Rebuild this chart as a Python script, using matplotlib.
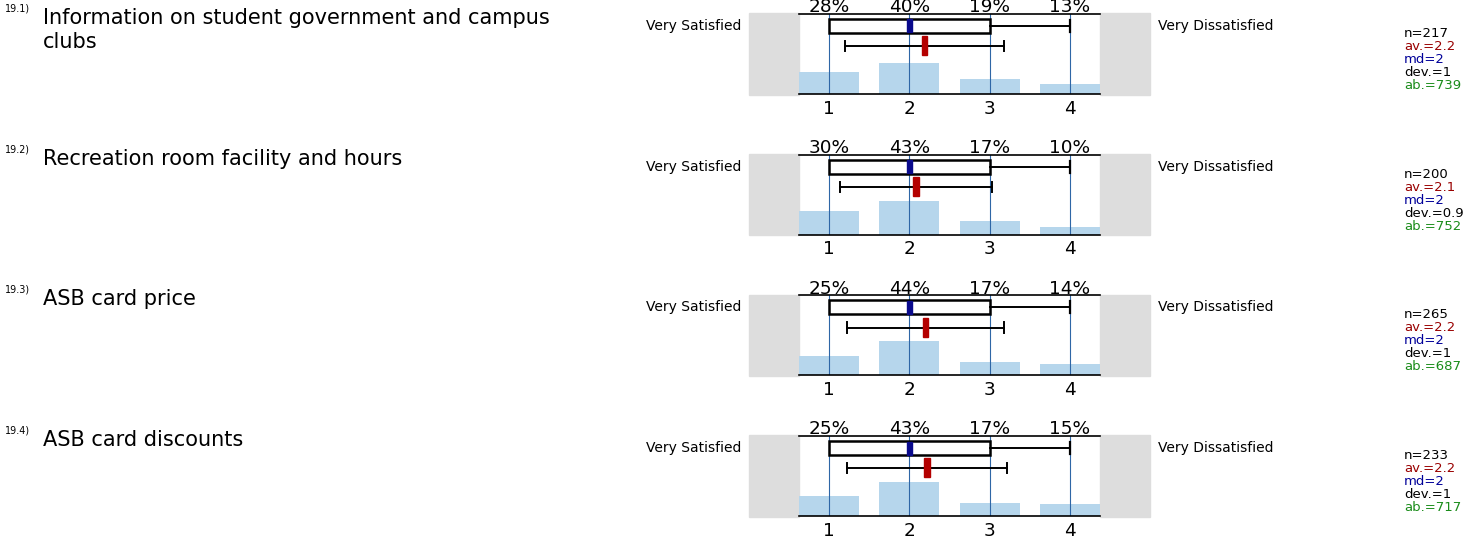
import matplotlib
matplotlib.use("Agg")
import matplotlib.pyplot as plt
from matplotlib.patches import Rectangle

# the reference text is wide for its height, DejaVu Sans comes closest
plt.rcParams['font.family'] = ['DejaVu Sans']

# data
item_ids = ["19.1)", "19.2)", "19.3)", "19.4)"]
questions = ["Information on student government and campus\nclubs",
             "Recreation room facility and hours",
             "ASB card price",
             "ASB card discounts"]
scale = [1, 2, 3, 4]
percents = [[28, 40, 19, 13],
            [30, 43, 17, 10],
            [25, 44, 17, 14],
            [25, 43, 17, 15]]
q1 = [1, 1, 1, 1]
medians = [2, 2, 2, 2]
q3 = [3, 3, 3, 3]
whisk_lo = [1, 1, 1, 1]
whisk_hi = [4, 4, 4, 4]
means = [2.19, 2.08, 2.2, 2.22]
devs = [0.99, 0.95, 0.98, 1.0]
n_vals = [217, 200, 265, 233]
av_txt = ["2.2", "2.1", "2.2", "2.2"]
md_txt = ["2", "2", "2", "2"]
dev_txt = ["1", "0.9", "1", "1"]
ab_vals = [739, 752, 687, 717]
left_label = "Very Satisfied"
right_label = "Very Dissatisfied"

W, H = 1475, 540
fig = plt.figure(figsize=(W / 100, H / 100), dpi=100)

GRAY = "#dddddd"
BAR = "#b6d6ec"
VLINE = "#2e66a6"
NAVY = "#0a0a8c"
RED = "#b40000"
GREEN = "#1a8c1a"

def fx(px):
    return px / W

def fy(py):
    return 1 - py / H

for i in range(len(questions)):
    top = 14 + i * 140.7
    ph = 80
    ax = fig.add_axes([fx(799), fy(top + ph), fx(1100) - fx(799), ph / H])
    ax.set_xlim(0.625, 4.375)
    ax.set_ylim(0, 102)

    # gray side blocks
    ax.add_patch(Rectangle((0.0, -1), 0.625, 104, color=GRAY, clip_on=False, zorder=0))
    ax.add_patch(Rectangle((4.375, -1), 0.625, 104, color=GRAY, clip_on=False, zorder=0))

    ax.bar(scale, percents[i], width=0.75, color=BAR, zorder=1)
    for s in scale:
        ax.axvline(s, color=VLINE, lw=0.8, zorder=2)

    # box plot
    ax.add_patch(Rectangle((q1[i], 77.7), q3[i] - q1[i], 18, fill=True, facecolor="white",
                           edgecolor="black", lw=1.8, zorder=3))
    ax.plot([q3[i], whisk_hi[i]], [86.7, 86.7], color="black", lw=1.4, zorder=3)
    ax.plot([whisk_hi[i], whisk_hi[i]], [79, 94.5], color="black", lw=1.6, zorder=3)
    ax.plot([whisk_lo[i], q1[i]], [86.7, 86.7], color="black", lw=1.4, zorder=3)
    ax.add_patch(Rectangle((medians[i] - 0.03, 78.5), 0.06, 16.5, color=NAVY, zorder=4))

    # mean +- deviation
    lo, hi = means[i] - devs[i], means[i] + devs[i]
    ax.plot([lo, hi], [61, 61], color="black", lw=1.4, zorder=3)
    for x in (lo, hi):
        ax.plot([x, x], [54.5, 67.5], color="black", lw=1.4, zorder=3)
    ax.add_patch(Rectangle((means[i] - 0.035, 49.5), 0.07, 24, color=RED, zorder=4))

    for s, p in zip(scale, percents[i]):
        ax.annotate(f"{p}%", (s, 102), xytext=(0, 1.2), textcoords="offset points",
                    ha="center", va="baseline", fontsize=13.3, annotation_clip=False)

    ax.set_xticks(scale)
    ax.set_xticklabels([str(s) for s in scale], fontsize=13.3)
    ax.tick_params(axis="x", length=0, pad=4)
    ax.set_yticks([])
    for side in ("left", "right"):
        ax.spines[side].set_visible(False)
    for side in ("top", "bottom"):
        ax.spines[side].set_linewidth(1.2)
    ax.patch.set_alpha(0)

    fig.text(fx(741), fy(top + 16), left_label, ha="right", va="baseline", fontsize=10)
    fig.text(fx(1158), fy(top + 16), right_label, ha="left", va="baseline", fontsize=10)

    fig.text(fx(5), fy(top - 2.5), item_ids[i], ha="left", va="baseline", fontsize=6.9)
    for k, line in enumerate(questions[i].split("\n")):
        fig.text(fx(43), fy(top + 10 + 24 * k), line, ha="left", va="baseline",
                 fontsize=15)

    stats = [(f"n={n_vals[i]}", "black"), (f"av.={av_txt[i]}", "#990000"),
             (f"md={md_txt[i]}", "#000099"), (f"dev.={dev_txt[i]}", "black"),
             (f"ab.={ab_vals[i]}", GREEN)]
    for k, (t, c) in enumerate(stats):
        fig.text(fx(1404), fy(top + 23 + 13 * k), t, ha="left", va="baseline",
                 fontsize=9.5, color=c)

fig.savefig("out.png", dpi=100)
